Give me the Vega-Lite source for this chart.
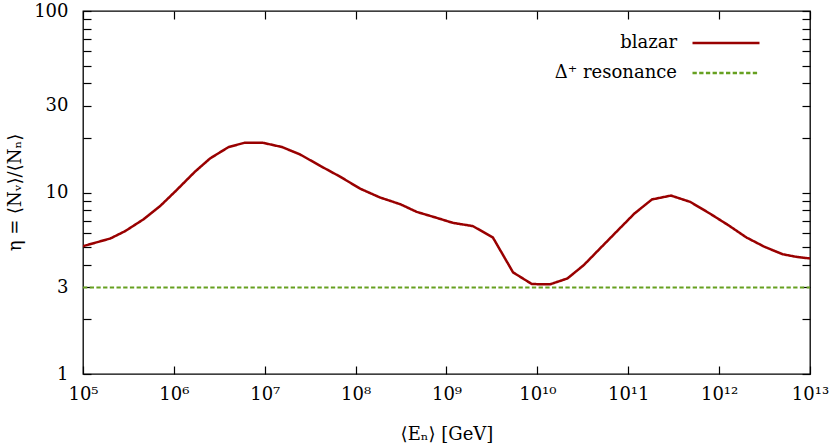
{
  "$schema": "https://vega.github.io/schema/vega-lite/v6.json",
  "width": 727,
  "height": 363,
  "autosize": {"type": "none"},
  "padding": {"left": 83, "top": 11, "right": 20, "bottom": 72},
  "background": "white",
  "config": {
    "view": {"stroke": "black", "strokeWidth": 1.3},
    "font": "DejaVu Serif",
    "axis": {
      "grid": false,
      "domain": false,
      "ticks": true,
      "tickColor": "black",
      "tickWidth": 1.2,
      "labelFont": "DejaVu Serif",
      "labelFontSize": 18,
      "labelColor": "black",
      "titleFont": "DejaVu Serif",
      "titleFontSize": 18,
      "titleFontWeight": "normal",
      "titleColor": "black"
    },
    "legend": {
      "labelFont": "DejaVu Serif",
      "labelFontSize": 18,
      "labelColor": "black"
    }
  },
  "data": {
    "values": [
      {"E": 1.0e5, "eta": 5.06, "series": "blazar"},
      {"E": 2.0e5, "eta": 5.58, "series": "blazar"},
      {"E": 2.9e5, "eta": 6.12, "series": "blazar"},
      {"E": 4.6e5, "eta": 7.10, "series": "blazar"},
      {"E": 7.1e5, "eta": 8.44, "series": "blazar"},
      {"E": 1.07e6, "eta": 10.3, "series": "blazar"},
      {"E": 1.7e6, "eta": 13.0, "series": "blazar"},
      {"E": 2.5e6, "eta": 15.4, "series": "blazar"},
      {"E": 4.0e6, "eta": 17.8, "series": "blazar"},
      {"E": 6.0e6, "eta": 18.8, "series": "blazar"},
      {"E": 9.5e6, "eta": 18.8, "series": "blazar"},
      {"E": 1.55e7, "eta": 17.8, "series": "blazar"},
      {"E": 2.45e7, "eta": 16.2, "series": "blazar"},
      {"E": 4.1e7, "eta": 14.0, "series": "blazar"},
      {"E": 6.8e7, "eta": 12.2, "series": "blazar"},
      {"E": 1.12e8, "eta": 10.5, "series": "blazar"},
      {"E": 1.86e8, "eta": 9.38, "series": "blazar"},
      {"E": 3.1e8, "eta": 8.62, "series": "blazar"},
      {"E": 4.7e8, "eta": 7.82, "series": "blazar"},
      {"E": 7.8e8, "eta": 7.25, "series": "blazar"},
      {"E": 1.18e9, "eta": 6.80, "series": "blazar"},
      {"E": 1.95e9, "eta": 6.53, "series": "blazar"},
      {"E": 3.24e9, "eta": 5.65, "series": "blazar"},
      {"E": 5.4e9, "eta": 3.63, "series": "blazar"},
      {"E": 8.7e9, "eta": 3.13, "series": "blazar"},
      {"E": 1.38e10, "eta": 3.12, "series": "blazar"},
      {"E": 2.14e10, "eta": 3.36, "series": "blazar"},
      {"E": 3.24e10, "eta": 3.98, "series": "blazar"},
      {"E": 4.9e10, "eta": 4.92, "series": "blazar"},
      {"E": 7.4e10, "eta": 6.07, "series": "blazar"},
      {"E": 1.17e11, "eta": 7.66, "series": "blazar"},
      {"E": 1.82e11, "eta": 9.15, "series": "blazar"},
      {"E": 2.95e11, "eta": 9.62, "series": "blazar"},
      {"E": 4.8e11, "eta": 8.88, "series": "blazar"},
      {"E": 7.9e11, "eta": 7.66, "series": "blazar"},
      {"E": 1.26e12, "eta": 6.61, "series": "blazar"},
      {"E": 2.0e12, "eta": 5.65, "series": "blazar"},
      {"E": 3.16e12, "eta": 5.02, "series": "blazar"},
      {"E": 5.0e12, "eta": 4.57, "series": "blazar"},
      {"E": 7.1e12, "eta": 4.42, "series": "blazar"},
      {"E": 1.0e13, "eta": 4.33, "series": "blazar"},
      {"E": 1.0e5, "eta": 3.0, "series": "Δ⁺ resonance"},
      {"E": 1.0e13, "eta": 3.0, "series": "Δ⁺ resonance"}
    ]
  },
  "encoding": {
    "x": {"field": "E", "type": "quantitative", "scale": {"type": "log", "domain": [1e5, 1e13], "nice": false}},
    "y": {"field": "eta", "type": "quantitative", "scale": {"type": "log", "domain": [1, 100], "nice": false}},
    "color": {
      "field": "series", "type": "nominal",
      "scale": {"domain": ["blazar", "Δ⁺ resonance"], "range": ["#990000", "#66a020"]},
      "legend": {
        "title": null,
        "orient": "none",
        "legendX": 608,
        "legendY": 22,
        "symbolType": "stroke",
        "symbolSize": 4489,
        "symbolStrokeWidth": 2.5,
        "rowPadding": 11,
        "labelAlign": "right",
        "labelOffset": -84,
        "padding": 0,
        "encode": {
          "symbols": {"update": {"y": {"value": 10}}},
          "labels": {"update": {"y": {"value": 10}}}
        }
      }
    },
    "strokeDash": {
      "field": "series", "type": "nominal",
      "scale": {"domain": ["blazar", "Δ⁺ resonance"], "range": [[1, 0], [4.3, 2.4]]},
      "legend": null
    }
  },
  "layer": [
    {
      "transform": [{"filter": "datum.series == 'blazar'"}],
      "mark": {"type": "line", "strokeWidth": 2.5, "clip": true},
      "encoding": {
        "x": {"field": "E", "type": "quantitative", "title": "⟨Eₙ⟩ [GeV]",
          "axis": {"orient": "bottom", "values": [1e5, 1e6, 1e7, 1e8, 1e9, 1e10, 1e11, 1e12, 1e13],
            "tickSize": -8, "labelPadding": 19, "labelFlush": false, "labelOverlap": false,
            "labelExpr": "'10' + replace(replace(replace(replace(replace(replace(replace(replace(replace(replace(format(log(datum.value)/LN10, '.0f'),'0','⁰'),'1','¹'),'2','²'),'3','³'),'4','⁴'),'5','⁵'),'6','⁶'),'7','⁷'),'8','⁸'),'9','⁹')",
            "titleY": 60, "titleBaseline": "middle"}},
        "y": {"field": "eta", "type": "quantitative", "title": "η = ⟨Nᵥ⟩/⟨Nₙ⟩",
          "axis": {"orient": "left", "values": [1,2,3,4,5,6,7,8,9,10,20,30,40,50,60,70,80,90,100],
            "tickSize": -8, "labelPadding": 23, "labelOverlap": false, "labelFlush": false,
            "labelExpr": "indexof([1,3,10,30,100], datum.value) >= 0 ? datum.label : ''",
            "titleX": -68, "titleY": 181, "titleBaseline": "middle", "titleAngle": -90}}
      }
    },
    {
      "transform": [{"filter": "datum.series != 'blazar'"}],
      "mark": {"type": "line", "strokeWidth": 2, "clip": true},
      "encoding": {
        "x": {"field": "E", "type": "quantitative",
          "axis": {"orient": "top", "values": [1e5, 1e6, 1e7, 1e8, 1e9, 1e10, 1e11, 1e12, 1e13],
            "tickSize": -8, "labels": false, "title": null}},
        "y": {"field": "eta", "type": "quantitative",
          "axis": {"orient": "right", "values": [1,2,3,4,5,6,7,8,9,10,20,30,40,50,60,70,80,90,100],
            "tickSize": -8, "labels": false, "title": null}}
      }
    }
  ],
  "resolve": {"axis": {"x": "independent", "y": "independent"}}
}
